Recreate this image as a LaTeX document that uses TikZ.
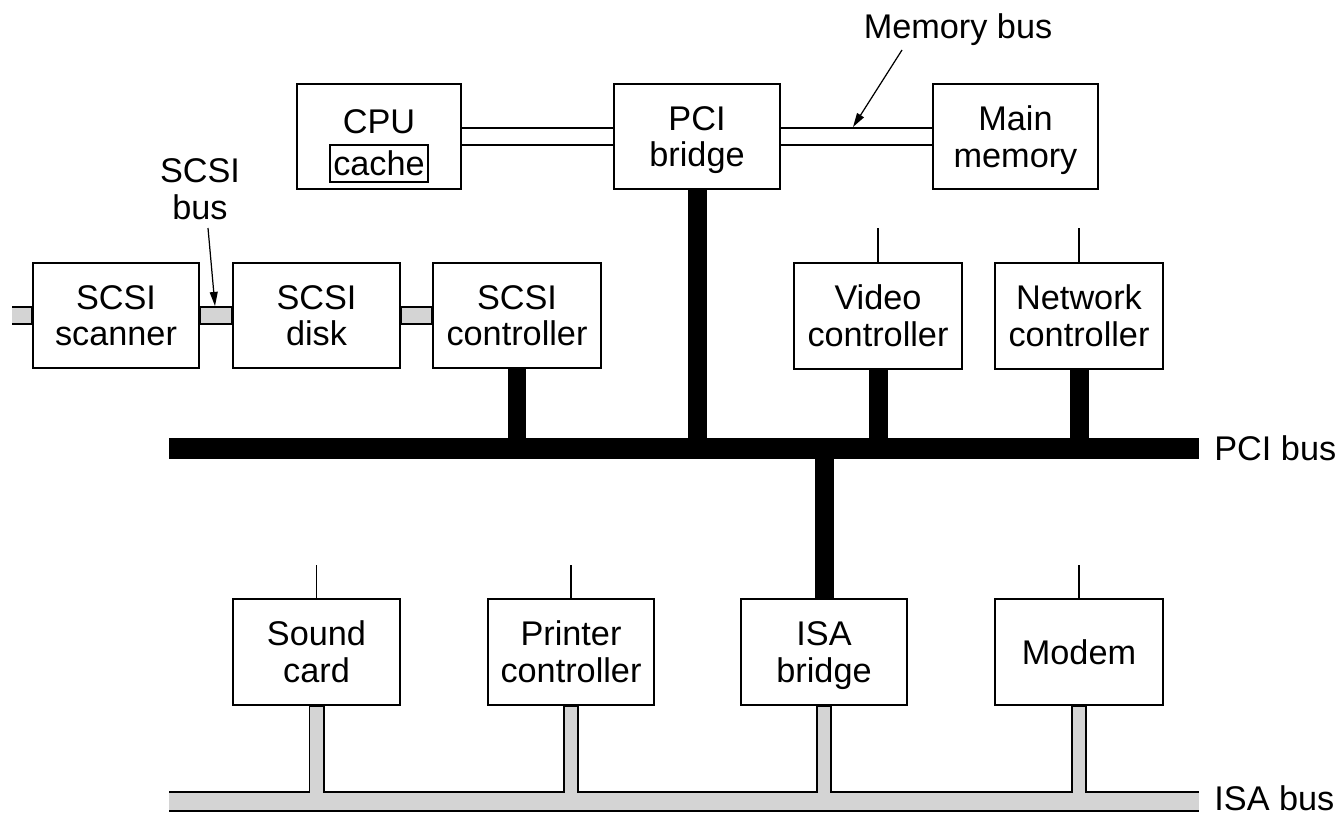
\documentclass[tikz,border=0pt]{standalone}
\usepackage{fontspec}
\setmainfont{Liberation Sans}
\usetikzlibrary{arrows.meta}
\definecolor{busgray}{RGB}{212,212,212}
\begin{document}
\begin{tikzpicture}[x=0.02cm,y=-0.02cm,
  lbl/.style={font=\fontsize{19.5}{21}\selectfont},
  box/.style={draw, line width=1.1pt, inner sep=0pt, align=center, lbl, text depth=0pt, minimum height=2.1cm},
  thinline/.style={line width=0.9pt},
  membus/.style={line width=1.1pt},
  pcibus/.style={line width=11.9pt},
  pcistub/.style={line width=10.8pt},
  isaout/.style={line width=11.9pt},
  isain/.style={line width=9.7pt, busgray},
  isastubout/.style={line width=9.1pt},
  isastubin/.style={line width=6.9pt, busgray},
  scsiout/.style={line width=10.6pt},
  scsiin/.style={line width=8.4pt, busgray},
  ptr/.style={line width=0.7pt, -{Triangle[length=8pt,width=4.5pt]}}
]
\useasboundingbox (0,0) rectangle (1344,814);

% boxes
\node[box, minimum width=3.28cm] (cpu) at (379,136.5) {};
\node[lbl, inner sep=0pt] (cputxt) at (379,121.5) {CPU};
\node[draw, line width=0.9pt, inner sep=0pt, minimum width=1.96cm, minimum height=0.74cm, lbl] (cache) at (379,163.5) {cache};
\node[box, minimum width=3.32cm] (pci) at (697,136.5) {PCI\\bridge};
\node[box, minimum width=3.3cm] (mem) at (1015.5,136.5) {Main\\memory};
\node[box, minimum width=3.32cm] (scanner) at (116,315.5) {SCSI\\scanner};
\node[box, minimum width=3.34cm] (disk) at (316.5,315.5) {SCSI\\disk};
\node[box, minimum width=3.36cm] (sctrl) at (517,315.5) {SCSI\\controller};
\node[box, minimum width=3.36cm, minimum height=2.12cm] (video) at (878,316) {Video\\controller};
\node[box, minimum width=3.36cm, minimum height=2.12cm] (net) at (1079,316) {Network\\controller};
\node[box, minimum width=3.34cm, minimum height=2.12cm] (sound) at (316.5,652) {Sound\\card};
\node[box, minimum width=3.32cm, minimum height=2.12cm] (printer) at (571,652) {Printer\\controller};
\node[box, minimum width=3.32cm, minimum height=2.12cm] (isab) at (824,652) {ISA\\bridge};
\node[box, minimum width=3.36cm, minimum height=2.12cm] (modem) at (1079,652) {Modem};

% coordinates
\coordinate (pciL) at (169,448.5);
\coordinate (pciR) at (1199,448.5);
\coordinate (isaL) at (169,801.5);
\coordinate (isaR) at (1199,801.5);
\coordinate (scsiend) at (12,315.5);
\coordinate (vidtop) at (878,228);
\coordinate (nettop) at (1079,228);
\coordinate (soundtop) at (316.5,565);
\coordinate (printertop) at (571,565);
\coordinate (modemtop) at (1079,565);
\coordinate (mbtail) at (902,50);
\coordinate (mbhead) at (853,127);
\coordinate (sbtail) at (208,228);
\coordinate (sbhead) at (215,306);

% memory bus (double lines)
\draw[membus] ([yshift=4.8pt]cpu.east) -- ([yshift=4.8pt]pci.west);
\draw[membus] ([yshift=-4.8pt]cpu.east) -- ([yshift=-4.8pt]pci.west);
\draw[membus] ([yshift=4.8pt]pci.east) -- ([yshift=4.8pt]mem.west);
\draw[membus] ([yshift=-4.8pt]pci.east) -- ([yshift=-4.8pt]mem.west);

% SCSI bus
\draw[scsiout] (scsiend) -- (scanner.west);
\draw[scsiout] (scanner.east) -- (disk.west);
\draw[scsiout] (disk.east) -- (sctrl.west);
\draw[scsiin, shorten >=0.55pt] (scsiend) -- (scanner.west);
\draw[scsiin, shorten >=0.55pt, shorten <=0.55pt] (scanner.east) -- (disk.west);
\draw[scsiin, shorten >=0.55pt, shorten <=0.55pt] (disk.east) -- (sctrl.west);

% PCI bus
\draw[pcibus] (pciL) -- (pciR);
\draw[pcistub] (sctrl.south) -- (sctrl.south |- pciL);
\draw[pcistub] (pci.south) -- (pci.south |- pciL);
\draw[pcistub] (video.south) -- (video.south |- pciL);
\draw[pcistub] (net.south) -- (net.south |- pciL);
\draw[pcistub] (isab.north) -- (isab.north |- pciL);

% ISA bus
\draw[isaout] (isaL) -- (isaR);
\foreach \n in {sound,printer,isab,modem}
  \draw[isastubout] (\n.south) -- (\n.south |- isaL);
\foreach \n in {sound,printer,isab,modem}
  \draw[isastubin, shorten <=0.55pt] (\n.south) -- (\n.south |- isaL);
\draw[isain] (isaL) -- (isaR);

% thin lines above boxes
\draw[thinline] (video.north) -- (vidtop);
\draw[thinline] (net.north) -- (nettop);
\draw[thinline] (sound.north) -- (soundtop);
\draw[thinline] (printer.north) -- (printertop);
\draw[thinline] (modem.north) -- (modemtop);

% labels and pointers
\node[lbl, anchor=base, inner sep=0pt] (mblabel) at (958,39) {Memory bus};
\node[lbl, align=center, inner sep=0pt] (scsilabel) at (200,189) {SCSI\\bus};
\node[lbl, anchor=west, inner sep=0pt] (pcilabel) at (1214,448.5) {PCI bus};
\node[lbl, anchor=west, inner sep=0pt] (isalabel) at (1214,798) {ISA bus};
\draw[ptr] (mbtail) -- (mbhead);
\draw[ptr] (sbtail) -- (sbhead);
\end{tikzpicture}
\end{document}
